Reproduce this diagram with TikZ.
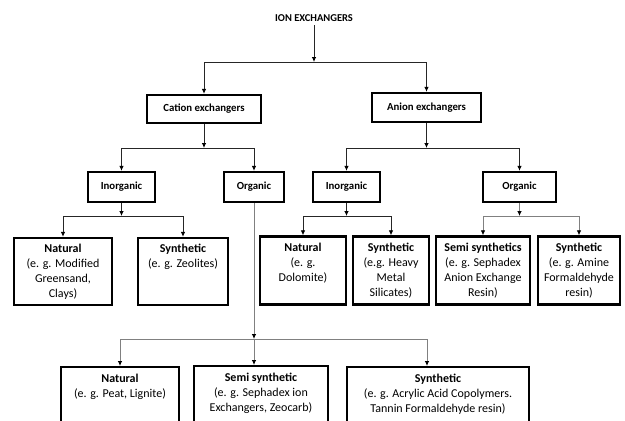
\documentclass[tikz,border=0pt]{standalone}
\usepackage{fontspec}
\setmainfont{Carlito}
\usetikzlibrary{arrows.meta,positioning}

% box content: width, height, lines (top aligned)
\newcommand{\cell}[3]{\parbox[c][#2][t]{#1}{\centering\vspace*{6.5pt}#3}}

\begin{document}
\begin{tikzpicture}[x=1pt,y=-1pt,
  box/.style={draw, line width=2.4pt, inner sep=0pt, font=\fontsize{12}{15}\selectfont},
  hbox/.style={box, font=\fontsize{10.8}{13}\selectfont\bfseries},
  link/.style={line width=0.8pt, draw=black!85, -{Latex[length=5pt,width=4.5pt,color=black]}},
  glink/.style={link, draw=black!50}]
\clip (0,0) rectangle (625,421);
% Define nodes
% Top nodes
\node[font=\fontsize{10.5}{12}\selectfont\bfseries] (ion) at (314,18) {ION EXCHANGERS};
\node[hbox, minimum width=114pt, minimum height=28pt] (cat) at (204,109) {Cation exchangers};
\node[hbox, minimum width=109pt, minimum height=29pt] (ani) at (426.5,107.5) {Anion exchangers};

% Second row
\node[hbox, minimum width=67pt, minimum height=30pt] (inorgc) at (121.5,187) {Inorganic};
\node[hbox, minimum width=60pt, minimum height=30pt] (orgc) at (254,187) {Organic};
\node[hbox, minimum width=67pt, minimum height=30pt] (inorga) at (346.5,187) {Inorganic};
\node[hbox, minimum width=73pt, minimum height=30pt] (orga) at (519.5,187) {Organic};

% Third row
\node[box] (natc) at (63,271.5) {\cell{98pt}{67pt}{\textbf{Natural}\\(e. g. Modified\\Greensand,\\Clays)}};
\node[box] (sync) at (183,271.5) {\cell{90pt}{67pt}{\textbf{Synthetic}\\(e. g. Zeolites)}};
\node[box] (nata) at (303,270.5) {\cell{86pt}{68pt}{\textbf{Natural}\\(e. g.\\Dolomite)}};
\node[box] (syna) at (391,270.5) {\cell{76pt}{68pt}{\textbf{Synthetic}\\(e.g. Heavy\\Metal\\Silicates)}};
\node[box] (semia) at (483,270.5) {\cell{94pt}{68pt}{\textbf{Semi synthetics}\\(e. g. Sephadex\\Anion Exchange\\Resin)}};
\node[box] (synb) at (579,270.5) {\cell{82pt}{68pt}{\textbf{Synthetic}\\(e. g. Amine\\Formaldehyde\\resin)}};

% Bottom row
\node[box, anchor=north] (natl) at (120,366) {\cell{118pt}{68pt}{\textbf{Natural}\\(e. g. Peat, Lignite)}};
\node[box, anchor=north] (semil) at (261,365) {\cell{134pt}{68pt}{\textbf{Semi synthetic}\\(e. g. Sephadex ion\\Exchangers, Zeocarb)}};
\node[box, anchor=north] (synl) at (438,366) {\cell{182pt}{68pt}{\textbf{Synthetic}\\(e. g. Acrylic Acid Copolymers.\\Tannin Formaldehyde resin)}};

% Split points
\coordinate (s0) at (314,62);
\coordinate (s1) at (204,148);
\coordinate (s2) at (426.5,148);
\coordinate (s3) at (121.5,216);
\coordinate (s4) at (346.5,216);
\coordinate (s5) at (519.5,216);
\coordinate (s6) at (254,339);

% Edges
\draw[link] (ion) -- (s0);
\draw[link] (s0) -| (cat.north);
\draw[link] (s0) -| (ani.north);
\draw[link] (cat) -- (s1);
\draw[link] (s1) -| (inorgc.north);
\draw[link] (s1) -| (orgc.north);
\draw[link] (ani) -- (s2);
\draw[link] (s2) -| (inorga.north);
\draw[link] (s2) -| (orga.north);
\draw[link] (inorgc) -- (s3);
\draw[link] (s3) -| (natc.north);
\draw[link] (s3) -| (sync.north);
\draw[link] (inorga) -- (s4);
\draw[link] (s4) -| (nata.north);
\draw[link] (s4) -| (syna.north);
\draw[glink] (orga) -- (s5);
\draw[glink] (s5) -| (semia.north);
\draw[glink] (s5) -| (synb.north);
\draw[glink] (orgc) -- (s6);
\draw[glink] (s6) -| (natl.north);
\draw[glink] (s6) -- (s6 |- semil.north);
\draw[glink] (s6) -| ([xshift=-11pt]synl.north);
\end{tikzpicture}
\end{document}
